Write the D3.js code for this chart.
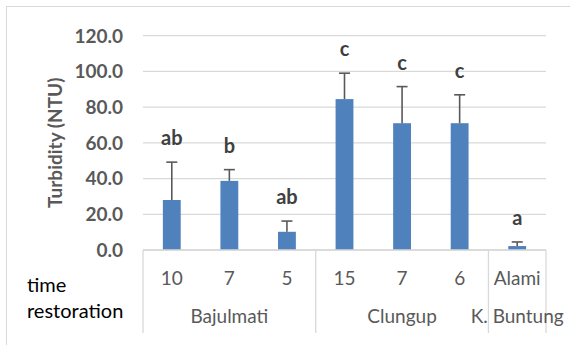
<!DOCTYPE html>
<html>
<head>
<meta charset="utf-8">
<script src="https://cdn.jsdelivr.net/npm/d3@7"></script>
<style>
  body { margin: 0; background: #fff; }
  text { font-family: Lato, "Open Sans", sans-serif; }
</style>
</head>
<body>
<div id="chart"></div>
<script>
(function(d3) {
  'use strict';

  // categories: restoration time and site
  var times = ['10', '7', '5', '15', '7', '6', 'Alami'];
  var sites = ['Bajulmati', 'Bajulmati', 'Bajulmati', 'Clungup', 'Clungup', 'Clungup', 'K. Buntung'];
  var groups = ['Bajulmati', 'Clungup', 'K. Buntung'];
  var turbidity = [28.0, 38.7, 10.2, 84.5, 71.0, 71.0, 2.2];
  var errors = [21.2, 6.3, 6.0, 14.5, 20.5, 15.9, 2.3];
  var letters = ['ab', 'b', 'ab', 'c', 'c', 'c', 'a'];
  var yTicks = [0, 20, 40, 60, 80, 100, 120];

  var width = 570;
  var height = 345;
  var left = 143, right = 546, top = 35.7, bottom = 250;

  var svg = d3.select('#chart')
    .append('svg')
    .attr('width', width)
    .attr('height', height);

  // chart border (only top and left visible)
  svg.append('rect')
    .attr('x', 6.5).attr('y', 6.5)
    .attr('width', 600).attr('height', 400)
    .attr('fill', 'none')
    .attr('stroke', '#d9d9d9');

  var ids = times.map(function(d, i) { return i; });

  var x = d3.scaleBand()
    .domain(ids)
    .range([left, right])
    .paddingInner(0.69)
    .paddingOuter(0.345);

  var xCat = d3.scaleBand().domain(ids).range([left, right]);

  var y = d3.scaleLinear()
    .domain([0, 120])
    .range([bottom, top]);

  // gridlines
  svg.append('g')
    .selectAll('line')
    .data(yTicks)
    .enter()
    .append('line')
    .attr('x1', left).attr('x2', right)
    .attr('y1', function(d) { return y(d); })
    .attr('y2', function(d) { return y(d); })
    .attr('stroke', '#d9d9d9')
    .attr('stroke-width', 1.3);

  // y tick labels
  svg.append('g')
    .selectAll('text')
    .data(yTicks)
    .enter()
    .append('text')
    .attr('x', 123)
    .attr('y', function(d) { return y(d); })
    .attr('dy', '0.36em')
    .attr('text-anchor', 'end')
    .attr('font-size', 19)
    .attr('font-weight', 'bold')
    .attr('fill', '#595959')
    .text(function(d) { return d.toFixed(1); });

  // y axis title
  svg.append('text')
    .attr('transform', 'translate(62,' + ((top + bottom) / 2) + ') rotate(-90)')
    .attr('text-anchor', 'middle')
    .attr('font-size', 19)
    .attr('font-weight', 'bold')
    .attr('fill', '#595959')
    .text('Turbidity (NTU)');

  // bars
  svg.append('g')
    .selectAll('rect')
    .data(turbidity)
    .enter()
    .append('rect')
    .attr('x', function(d, i) { return x(i); })
    .attr('y', function(d) { return y(d); })
    .attr('width', x.bandwidth())
    .attr('height', function(d) { return y(0) - y(d); })
    .attr('fill', '#4f81bd');

  // error bars (upper only)
  var err = svg.append('g')
    .attr('stroke', '#595959')
    .attr('stroke-width', 1.6);
  turbidity.forEach(function(d, i) {
    var cx = x(i) + x.bandwidth() / 2;
    err.append('line')
      .attr('x1', cx).attr('x2', cx)
      .attr('y1', y(d)).attr('y2', y(d + errors[i]));
    err.append('line')
      .attr('x1', cx - 5.5).attr('x2', cx + 5.5)
      .attr('y1', y(d + errors[i])).attr('y2', y(d + errors[i]));
  });

  // significance letters
  svg.append('g')
    .selectAll('text')
    .data(letters)
    .enter()
    .append('text')
    .attr('x', function(d, i) { return x(i) + x.bandwidth() / 2; })
    .attr('y', function(d, i) { return y(turbidity[i] + errors[i]) - 24; })
    .attr('dy', '0.36em')
    .attr('text-anchor', 'middle')
    .attr('font-size', 20)
    .attr('font-weight', 'bold')
    .attr('fill', '#404040')
    .text(function(d) { return d; });

  // category axis
  var axis = svg.append('g')
    .attr('stroke', '#d9d9d9')
    .attr('stroke-width', 1.3);
  axis.append('line')
    .attr('x1', left).attr('x2', right)
    .attr('y1', bottom).attr('y2', bottom);

  var groupBounds = groups.map(function(g) {
    var idx = ids.filter(function(i) { return sites[i] === g; });
    return {
      name: g,
      x0: xCat(idx[0]),
      x1: xCat(idx[idx.length - 1]) + xCat.bandwidth()
    };
  });
  var edges = [left].concat(groupBounds.map(function(g) { return g.x1; }));
  axis.selectAll('line.sep')
    .data(edges)
    .enter()
    .append('line')
    .attr('class', 'sep')
    .attr('x1', function(d) { return d; })
    .attr('x2', function(d) { return d; })
    .attr('y1', bottom).attr('y2', 333);

  svg.append('g')
    .selectAll('text')
    .data(times)
    .enter()
    .append('text')
    .attr('x', function(d, i) { return xCat(i) + xCat.bandwidth() / 2; })
    .attr('y', 285)
    .attr('text-anchor', 'middle')
    .attr('font-size', 19)
    .attr('fill', '#595959')
    .text(function(d) { return d; });

  svg.append('g')
    .selectAll('text')
    .data(groupBounds)
    .enter()
    .append('text')
    .attr('x', function(d) { return (d.x0 + d.x1) / 2; })
    .attr('y', 323)
    .attr('text-anchor', 'middle')
    .attr('font-size', 19)
    .attr('fill', '#595959')
    .text(function(d) { return d.name; });

  // left side label
  svg.append('text')
    .attr('x', 27).attr('y', 292)
    .attr('font-size', 20)
    .attr('fill', '#000')
    .text('time');
  svg.append('text')
    .attr('x', 27).attr('y', 318)
    .attr('font-size', 20)
    .attr('fill', '#000')
    .text('restoration');
})(window.d3);
</script>
</body>
</html>
